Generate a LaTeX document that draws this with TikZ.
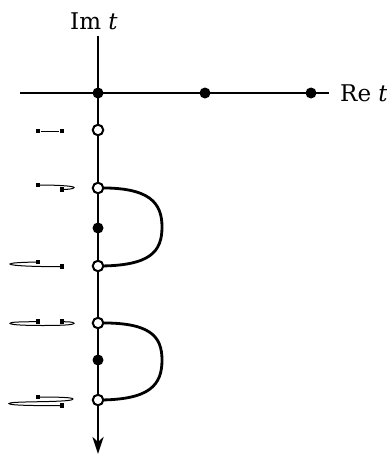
\documentclass[tikz,border=0pt]{standalone}
\usepackage{fontspec}
\setmainfont{DejaVu Serif}
\usetikzlibrary{backgrounds,arrows.meta}
\begin{document}
\begin{tikzpicture}[x=1pt,y=-1pt,
  thinline/.style={line width=1.3pt},
  thickline/.style={line width=2.8pt},
  iconline/.style={line width=1pt},
  filldot/.style={circle,fill=black,inner sep=0pt,minimum size=11pt},
  opendot/.style={circle,draw=black,fill=white,line width=2pt,inner sep=0pt,minimum size=10.5pt},
  sq/.style={rectangle,fill=black,inner sep=0pt,minimum size=4.8pt},
  lbl/.style={font=\fontsize{23}{27}\selectfont,inner sep=0pt}]
\useasboundingbox (0,0) rectangle (387,455);
% axis points
\coordinate (imtop) at (98,36);
\coordinate (releft) at (20,93);
\coordinate (reright) at (329,93);
\coordinate (bottom) at (98,454);
\node[filldot] (o) at (98,93) {};
\node[filldot] (r1) at (205,93) {};
\node[filldot] (r2) at (311,93) {};
\node[opendot] (c1) at (98,130) {};
\node[opendot] (c2) at (98,188) {};
\node[filldot] (p1) at (98,228) {};
\node[opendot] (c3) at (98,266) {};
\node[opendot] (c4) at (98,323) {};
\node[filldot] (p2) at (98,360) {};
\node[opendot] (c5) at (98,400) {};
% labels
\node[lbl,anchor=base west] (im) at (70,29) {Im {\itshape t}};
\node[lbl,anchor=base west] (re) at (340,101.3) {Re {\itshape t}};
\begin{scope}[on background layer]
\draw[thinline] (releft) -- (reright);
\draw[thinline] (imtop) -- (o.center);
\draw[thickline] (o.center) -- (c2.center);
\draw[thinline] (c2.center) -- (c3.center);
\draw[thickline] (c3.center) -- (c4.center);
\draw[thinline] (c4.center) -- (c5.center);
\draw[thickline,-{Stealth[length=17pt,width=11pt,inset=5pt]}] (c5.center) -- (bottom);
\draw[thickline] (c2.center) .. controls (150,187) and (162,203) .. (162,227)
  .. controls (162,252) and (150,266) .. (c3.center);
\draw[thickline] (c4.center) .. controls (150,322) and (162,336) .. (162,360)
  .. controls (162,385) and (150,400) .. (c5.center);
\end{scope}
% icons
\node[sq] (a1) at (38,131) {};
\node[sq] (b1) at (62,131) {};
\draw[iconline] (a1) -- (b1);
\node[sq] (a2) at (38,185) {};
\node[sq] (b2) at (62,189.5) {};
\draw[iconline] (a2.center) .. controls (58,185) and (74,186) .. (74,187.5)
  .. controls (74,189) and (67,189.5) .. (b2.center);
\node[sq] (a3) at (38,262) {};
\node[sq] (b3) at (62,266.7) {};
\draw[iconline] (a3.center) .. controls (20,262.3) and (10,263) .. (10,264)
  .. controls (10,265.5) and (30,266.7) .. (b3.center);
\node[sq] (a4) at (38,321.7) {};
\node[sq] (b4) at (62,321.7) {};
\draw[iconline] (a4.center) .. controls (18,321.7) and (10,322.2) .. (10,323.3)
  .. controls (10,325) and (28,325.5) .. (42,325.5)
  .. controls (60,325.5) and (74,325) .. (74,323.3)
  .. controls (74,322) and (68,321.7) .. (b4.center);
\node[sq] (a5) at (38,397) {};
\node[sq] (b5) at (62,405.7) {};
\draw[iconline] (a5.center) .. controls (60,397) and (73,397.5) .. (73,399)
  .. controls (73,400.7) and (60,401.3) .. (40,401.7)
  .. controls (16,402.1) and (9,402.5) .. (9,403.6)
  .. controls (9,405.2) and (30,405.7) .. (b5.center);
\end{tikzpicture}
\end{document}
